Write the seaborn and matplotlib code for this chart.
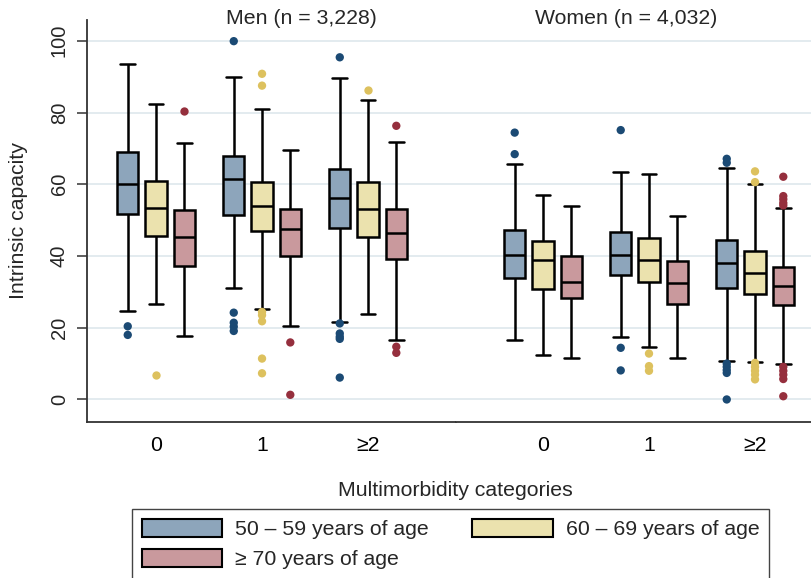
import numpy as np
import pandas as pd
import matplotlib
matplotlib.use("Agg")
import matplotlib.pyplot as plt
import seaborn as sns
from matplotlib.patches import Patch

# ---------------- data ----------------
categories = ["0", "1", "≥2"]
age_groups = ["50 – 59 years of age", "60 – 69 years of age", "≥ 70 years of age"]
panel_titles = ["Men (n = 3,228)", "Women (n = 4,032)"]

# Box summaries: rows = multimorbidity category, columns = age group
men_low = [[24.8, 26.6, 17.8], [31.1, 25.2, 20.6], [21.6, 23.7, 16.7]]
men_q1 = [[51.8, 45.7, 37.1], [51.3, 46.9, 39.9], [47.7, 45.4, 39.1]]
men_median = [[60.1, 53.4, 45.2], [61.4, 53.9, 47.5], [56.3, 53.0, 46.5]]
men_q3 = [[69.0, 60.9, 52.7], [67.9, 60.6, 53.0], [64.3, 60.5, 53.2]]
men_high = [[93.5, 82.5, 71.6], [89.9, 81.0, 69.5], [89.6, 83.5, 71.9]]
men_outliers = [
    [[20.4, 18.0], [6.9], [80.5]],
    [[99.9, 24.2, 21.4, 20.3, 19.1], [90.8, 87.5, 24.4, 23.5, 21.8, 11.4, 7.3], [15.9, 1.3]],
    [[95.4, 21.2, 18.4, 17.5, 16.9, 6.1], [86.2], [76.3, 14.7, 13.0]],
]

women_low = [[16.5, 12.5, 11.6], [17.3, 14.6, 11.5], [10.6, 10.5, 9.9]]
women_q1 = [[34.0, 30.8, 28.3], [34.6, 32.8, 26.6], [31.0, 29.4, 26.4]]
women_median = [[40.2, 38.9, 32.8], [40.2, 38.9, 32.5], [38.1, 35.3, 31.7]]
women_q3 = [[47.3, 44.2, 39.9], [46.7, 44.9, 38.6], [44.4, 41.5, 36.8]]
women_high = [[65.6, 56.9, 53.9], [63.4, 62.8, 51.1], [64.5, 60.0, 53.4]]
women_outliers = [
    [[74.4, 68.4], [], []],
    [[75.1, 14.4, 8.1], [12.8, 9.3, 8.0], []],
    [[67.1, 66.0, 10.0, 9.1, 8.2, 7.4, 0.0],
     [63.6, 60.6, 10.2, 9.1, 8.0, 6.9, 5.6],
     [62.1, 56.7, 55.8, 54.8, 54.1, 9.1, 8.0, 6.9, 5.7, 0.9]],
]

box_colors = ["#8da5bb", "#ebe2ae", "#c9999d"]
flier_colors = ["#1b4a74", "#ddc15e", "#952f3d"]


def build_frames(low, q1, med, q3, high, outl):
    box_rows, out_rows = [], []
    for i, cat in enumerate(categories):
        for j, age in enumerate(age_groups):
            for v in (low[i][j], q1[i][j], med[i][j], q3[i][j], high[i][j]):
                box_rows.append((cat, age, v))
            for v in outl[i][j]:
                out_rows.append((cat, age, v))
    cols = ["morb", "age", "ic"]
    return pd.DataFrame(box_rows, columns=cols), pd.DataFrame(out_rows, columns=cols)


men_box, men_out = build_frames(men_low, men_q1, men_median, men_q3, men_high, men_outliers)
women_box, women_out = build_frames(women_low, women_q1, women_median, women_q3, women_high, women_outliers)

# ---------------- style ----------------
sns.set_style("white")
plt.rcParams["font.family"] = ["Liberation Sans", "DejaVu Sans"]

W, H = 811, 578
fig = plt.figure(figsize=(W / 100, H / 100), dpi=100)
left_px, split_px, right_px = 87, 455.5, 811
top_px, bottom_px = 20, 421.7
B = 1 - bottom_px / H
Ht = (bottom_px - top_px) / H
ax1 = fig.add_axes([left_px / W, B, (split_px - left_px) / W, Ht])
ax2 = fig.add_axes([split_px / W, B, (right_px - split_px) / W, Ht], sharey=ax1)

panels = [
    (ax1, men_box, men_out, (-0.651, 2.825)),
    (ax2, women_box, women_out, (-0.825, 2.528)),
]

for ax, bdf, odf, xl in panels:
    sns.boxplot(data=bdf, x="morb", y="ic", hue="age", order=categories,
                hue_order=age_groups, palette=box_colors, saturation=1,
                whis=(0, 100), showfliers=False, width=0.8, gap=0.25,
                linecolor="black", linewidth=1.8, capwidths=0.14,
                legend=False, ax=ax)
    sns.stripplot(data=odf, x="morb", y="ic", hue="age", order=categories,
                  hue_order=age_groups, palette=flier_colors, dodge=True,
                  jitter=False, size=6, linewidth=0, legend=False, ax=ax,
                  zorder=4)
    ax.set_xlim(*xl)
    ax.set_xlabel("")
    ax.set_ylabel("")
    ax.yaxis.grid(True, color="#e3ebef", linewidth=1.4)
    ax.xaxis.grid(False)
    ax.set_axisbelow(True)
    for s in ("top", "right"):
        ax.spines[s].set_visible(False)
    ax.spines["bottom"].set_color("#333333")
    ax.spines["bottom"].set_linewidth(1.3)
    ax.tick_params(axis="x", length=0, pad=10, labelsize=15.3, colors="black")

ax1.set_ylim(-6.2, 105.8)
ax1.set_yticks([0, 20, 40, 60, 80, 100])
ax1.spines["left"].set_color("#333333")
ax1.spines["left"].set_linewidth(1.3)
ax1.tick_params(axis="y", left=True, length=7, width=1.1, color="#333333",
                pad=6, labelsize=14.5, labelrotation=90)
for lab in ax1.get_yticklabels():
    lab.set_va("center")
ax1.set_ylabel("Intrinsic capacity", fontsize=15.3)
ax1.yaxis.set_label_coords(-0.16, 0.5)

ax2.spines["left"].set_visible(False)
ax2.tick_params(axis="y", left=False, labelleft=False)

fig.text(301 / W, 1 - 19 / H, panel_titles[0], ha="center", va="center", fontsize=15.3)
fig.text(626.5 / W, 1 - 19 / H, panel_titles[1], ha="center", va="center", fontsize=15.3)
fig.text(455 / W, 1 - 490 / H, "Multimorbidity categories", ha="center", va="center",
         fontsize=15.3)

# legend filled row-wise: row 1 = first two groups, row 2 = third
handles = {a: Patch(facecolor=c, edgecolor="black", linewidth=1.5)
           for a, c in zip(age_groups, box_colors)}
leg_order = [age_groups[0], age_groups[2], age_groups[1]]
leg = fig.legend([handles[a] for a in leg_order], leg_order, ncol=2, loc="upper left",
                 bbox_to_anchor=(132 / W, 1 - 509 / H), borderaxespad=0,
                 fontsize=15.3, handlelength=3.8, handleheight=0.95,
                 handletextpad=0.6, columnspacing=2.05, borderpad=0.45,
                 labelspacing=0.45, fancybox=False, framealpha=1,
                 edgecolor="#444444")
leg.get_frame().set_linewidth(1.0)

fig.savefig("out.png", dpi=100)
